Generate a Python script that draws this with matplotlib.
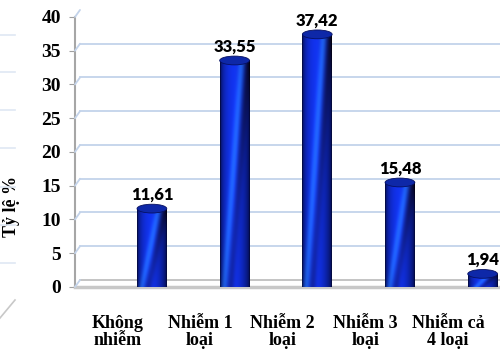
import numpy as np
import matplotlib.pyplot as plt
from matplotlib.transforms import ScaledTranslation
from matplotlib.patches import Ellipse
from matplotlib.lines import Line2D

categories = ["Không\nnhiễm", "Nhiễm 1\nloại", "Nhiễm 2\nloại", "Nhiễm 3\nloại", "Nhiễm cả\n4 loại"]
values = [11.61, 33.55, 37.42, 15.48, 1.94]
yticks = [0, 5, 10, 15, 20, 25, 30, 35, 40]

serif = "Liberation Serif"
shift = 0.42      # 3D depth: bars sit behind/right of their labels
bw = 0.36
dx, dy = 5, 7     # depth offset of the back wall in pixels

fig = plt.figure(figsize=(5.0, 3.53), dpi=100)
ax = fig.add_axes([0.15, 0.187, 0.85, 0.765])
ax.set_xlim(-0.51, 4.63)
ax.set_ylim(0, 40)

# back wall grid, lifted a few pixels for the perspective look
ax.set_yticks(yticks)
ax.yaxis.grid(True, color="#c3d3ea", lw=1.3)
ax.set_axisbelow(True)
for gl in ax.get_ygridlines():
    gl.set_transform(gl.get_transform() + ScaledTranslation(dx / 100, dy / 100, fig.dpi_scale_trans))
for y in yticks:
    ax.annotate("", xy=(0, y), xycoords=("axes fraction", "data"),
                xytext=(dx * 0.72, dy * 0.72), textcoords="offset points",
                arrowprops=dict(arrowstyle="-", color="#c3d3ea", lw=1.3, shrinkA=0, shrinkB=0))
ax.get_ygridlines()[0].set_color("#bfbfbf")

# cylinder texture: dark rims, bright diagonal streak
def texture(h):
    ny = max(int(h * 7), 10)
    nx = 40
    u = np.linspace(-1, 1, nx)[None, :] * np.ones((ny, 1))
    v = np.linspace(1, 0, ny)[:, None] * np.ones((1, nx))
    shade = np.sqrt(np.clip(1 - u ** 2, 0, 1)) * (1 - 0.35 * np.clip(u, 0, 1))
    center = -0.75 + 1.2 * v
    stripe = np.exp(-((u - center) / 0.22) ** 2)
    dark = np.exp(-((u - center - 0.45) / 0.25) ** 2)
    r = 0.01 + 0.06 * shade + 0.06 * stripe
    g = 0.03 + 0.17 * shade + 0.20 * stripe - 0.05 * dark
    b = 0.22 + 0.72 * shade + 0.15 * stripe - 0.25 * dark
    return np.clip(np.dstack([r, g, b]), 0, 1)

xs = np.arange(len(categories)) + shift
bars = ax.bar(xs, values, width=bw, color="#0a1f9a", zorder=2)
eh = 1.3
for x, h, p in zip(xs, values, bars.patches):
    p.set_alpha(0)
    tex = texture(h)
    ext = (x - bw / 2, x + bw / 2, -eh / 2, h)
    im = ax.imshow(tex, extent=ext, origin="upper", aspect="auto", zorder=3, interpolation="bilinear")
    im.set_clip_path(plt.Rectangle((x - bw / 2, 0), bw, h, transform=ax.transData))
    im2 = ax.imshow(tex, extent=ext, origin="upper", aspect="auto", zorder=3, interpolation="bilinear")
    im2.set_clip_path(Ellipse((x, 0), bw, eh, transform=ax.transData))
    ax.add_patch(Ellipse((x, h), bw, eh, facecolor="#0e28a8", edgecolor="#061060",
                         lw=0.6, zorder=4))
    ax.text(x, h + 0.9, f"{h:.2f}".replace(".", ","), ha="center", va="bottom",
            fontsize=12, fontweight="heavy", family="Lato", color="black", zorder=5)

ax.set_xlim(-0.51, 4.63)
ax.set_ylim(0, 40)
ax.set_xticks(np.arange(len(categories)))
ax.set_xticklabels(categories, fontsize=13, fontweight="bold", family=serif, linespacing=1.0)
ax.tick_params(axis="x", length=0, pad=20)
ax.tick_params(axis="y", length=4, color="#a0a0a0", labelsize=14, pad=6)
for t in ax.get_yticklabels():
    t.set_fontweight("bold")
    t.set_family(serif)

for s in ["top", "right"]:
    ax.spines[s].set_visible(False)
ax.spines["left"].set_color("#a6a6a6")
ax.spines["left"].set_linewidth(1.5)
ax.spines["bottom"].set_color("#c8c8c8")
ax.spines["bottom"].set_linewidth(2.5)

ax.set_ylabel("Tỷ lệ %", fontsize=13, fontweight="bold", family=serif)
ax.yaxis.set_label_coords(-0.13, 0.3)

# faint remnants of a neighbouring chart at the left edge
for yp in [35, 72, 110, 148, 187, 225, 263]:
    fig.add_artist(Line2D([0, 0.03], [1 - yp / 353] * 2, color="#dfe8f3", lw=1.2))
fig.add_artist(Line2D([0, 0.03], [1 - 318 / 353, 1 - 300 / 353], color="#c8c8c8", lw=1.2))

fig.savefig("out.png", dpi=100)
